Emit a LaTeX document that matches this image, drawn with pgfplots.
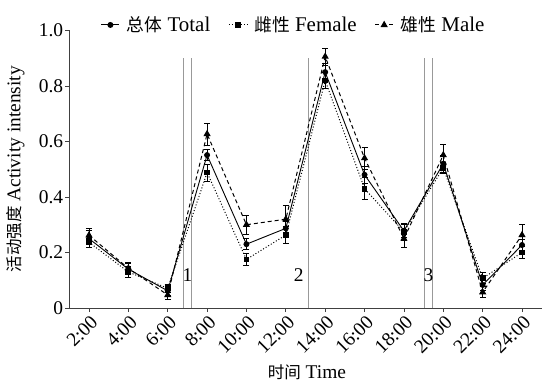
\documentclass[border=0pt]{standalone}
\usepackage{fontspec}
\setmainfont{Liberation Serif}
\newfontfamily\cjk{Noto Sans CJK SC}[Scale=0.85]
\usepackage{pgfplots}
\pgfplotsset{compat=1.18}
\usepackage{pgfplotstable}
\pgfplotstableread{
x y e
2 0.250 0.030
4 0.140 0.020
6 0.062 0.015
8 0.551 0.020
10 0.230 0.020
12 0.287 0.025
14 0.850 0.030
16 0.480 0.030
18 0.278 0.025
20 0.520 0.030
22 0.083 0.020
24 0.227 0.020
}\total
\pgfplotstableread{
x y e
2 0.237 0.020
4 0.130 0.020
6 0.071 0.015
8 0.488 0.030
10 0.175 0.020
12 0.263 0.030
14 0.820 0.030
16 0.430 0.040
18 0.275 0.030
20 0.505 0.020
22 0.107 0.020
24 0.200 0.022
}\female
\pgfplotstableread{
x y e
2 0.262 0.025
4 0.143 0.020
6 0.047 0.015
8 0.627 0.040
10 0.300 0.035
12 0.320 0.050
14 0.906 0.030
16 0.540 0.040
18 0.250 0.030
20 0.551 0.040
22 0.057 0.020
24 0.263 0.040
}\male
\newcommand{\fs}{\fontsize{19.5}{22}\selectfont}
\newcommand{\fl}{\fontsize{21}{24}\selectfont}
\newcommand{\ft}{\fontsize{19.5}{22}\selectfont}
\begin{document}
\begin{tikzpicture}
\begin{axis}[
  scale only axis,
  width=472.4bp, height=277.5bp,
  xmin=1, xmax=25, ymin=0, ymax=1.0,
  axis x line*=bottom, axis y line*=left,
  axis line style={black!75, line width=1bp},
  tick style={black!75, line width=0.8bp},
  tick align=outside,
  major tick length=4bp,
  xtick={2,4,...,24},
  xticklabels={2:00,4:00,6:00,8:00,10:00,12:00,14:00,16:00,18:00,20:00,22:00,24:00},
  tick label style={font=\ft},
  label style={font=\fs},
  x tick label style={rotate=45, anchor=north east, inner sep=1bp, yshift=-1bp},
  ytick={0,0.2,0.4,0.6,0.8,1.0},
  yticklabels={0,0.2,0.4,0.6,0.8,1.0},
  y tick label style={inner sep=2bp},
  /pgf/number format/assume math mode=true,
  xlabel={{\cjk 时间} Time},
  ylabel={{\cjk 活动强度} Activity intensity},
  xlabel style={at={(axis description cs:0.503,-0.231)}, anchor=center},
  ylabel style={at={(axis description cs:-0.114,0.5)}, anchor=center},
  legend columns=3,
  legend style={draw=none, fill=none, at={(0.475,1.02)}, anchor=center,
    font=\fl, column sep=5bp,
    /tikz/every even column/.append style={column sep=16bp}},
  legend image code/.code={\draw[#1, mark repeat=2, mark phase=2] plot coordinates {(0bp,0bp) (9bp,0bp) (18bp,0bp)};},
  clip=false,
]
\draw[gray!80, line width=1bp] (axis cs:6.78,0) -- (axis cs:6.78,0.9);
\draw[gray!80, line width=1bp] (axis cs:7.21,0) -- (axis cs:7.21,0.9);
\draw[gray!80, line width=1bp] (axis cs:13.16,0) -- (axis cs:13.16,0.9);
\draw[gray!80, line width=1bp] (axis cs:19.05,0) -- (axis cs:19.05,0.9);
\draw[gray!80, line width=1bp] (axis cs:19.47,0) -- (axis cs:19.47,0.9);
\node[font=\ft] at (axis cs:7.0,0.12) {1};
\node[font=\ft] at (axis cs:12.65,0.12) {2};
\node[font=\ft] at (axis cs:19.25,0.12) {3};
\addplot[black, line width=0.9bp, mark=*, mark size=2.5bp,
  error bars/.cd, y dir=both, y explicit,
  error bar style={black, line width=0.8bp, solid}, error mark options={black, mark size=3bp, line width=0.8bp, rotate=90}]
  table[x=x, y=y, y error=e] {\total};
\addlegendentry{{\cjk 总体} Total}
\addplot[black, line width=1bp, dotted, mark=square*, mark size=2.4bp, mark options={solid},
  error bars/.cd, y dir=both, y explicit,
  error bar style={black, line width=0.8bp, solid}, error mark options={black, mark size=3bp, line width=0.8bp, rotate=90}]
  table[x=x, y=y, y error=e] {\female};
\addlegendentry{{\cjk 雌性} Female}
\addplot[black, line width=1bp, dash pattern=on 4bp off 3bp, mark=triangle*, mark size=3.2bp, mark options={solid},
  error bars/.cd, y dir=both, y explicit,
  error bar style={black, line width=0.8bp, solid}, error mark options={black, mark size=3bp, line width=0.8bp, rotate=90}]
  table[x=x, y=y, y error=e] {\male};
\addlegendentry{{\cjk 雄性} Male}
\end{axis}
\pgfresetboundingbox
\useasboundingbox (-69.3bp,-75bp) rectangle (472.7bp,308bp);
\end{tikzpicture}
\end{document}
